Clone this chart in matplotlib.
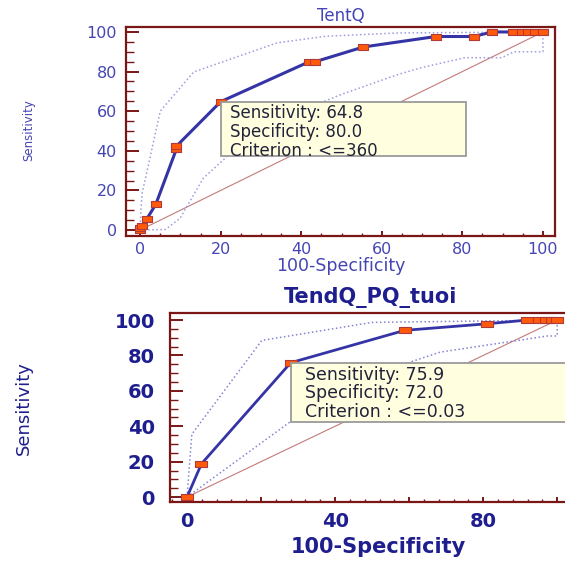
import matplotlib
matplotlib.use("Agg")
import matplotlib.pyplot as plt
from matplotlib.patches import Rectangle
from matplotlib.ticker import MultipleLocator, FixedLocator, FixedFormatter
from matplotlib.transforms import Affine2D, ScaledTranslation

# --- TentQ ROC (x = 100-Specificity, y = Sensitivity) ---
tent_fpr = [0, 0, 0.5, 1.6, 3.9, 9.0, 9.0, 20.0, 42.0, 43.5, 55.4, 73.4, 82.8,
            87.4, 92.6, 94.8, 96.3, 98.0, 100]
tent_sens = [0, 1.0, 2.0, 5.4, 13.0, 40.8, 42.3, 64.8, 85.0, 85.0, 92.4, 97.7, 97.7,
             100, 100, 100, 100, 100, 100]
tent_hi_x = [0, 0.2, 0.5, 5.0, 13.3, 34.0, 46.0, 64.0, 100]
tent_hi_y = [0, 10.0, 18.5, 60.0, 79.8, 94.5, 97.8, 99.5, 100]
tent_lo_x = [0, 6.3, 9.9, 15.7, 21.6, 35.0, 50.0, 64.0, 69.5, 80.6, 89.8, 92.8, 100, 100]
tent_lo_y = [0, 0.3, 5.9, 26.2, 37.2, 56.0, 68.5, 78.5, 81.8, 87.0, 87.0, 90.0, 90.0, 100]
tent_crit = (20.0, 64.8)
tent_lines = ["Sensitivity: 64.8", "Specificity: 80.0", "Criterion : <=360"]

# --- TendQ_PQ_tuoi ROC ---
pq_fpr = [0, 3.9, 28.0, 58.8, 81.0, 91.9, 95.2, 97.0, 98.5, 100]
pq_sens = [0, 18.8, 75.9, 94.2, 97.9, 100, 100, 100, 100, 100]
pq_hi_x = [0, 1.3, 20.2, 50.0, 100]
pq_hi_y = [0, 35.5, 88.5, 98.7, 100]
pq_lo_x = [0, 27.8, 60.3, 68.4, 97.3, 100, 100]
pq_lo_y = [0, 42.4, 76.3, 81.9, 91.0, 91.0, 100]
pq_crit = (28.0, 75.9)
pq_lines = ["Sensitivity: 75.9", "Specificity: 72.0", "Criterion : <=0.03"]

diag = [0, 100]

FRAME = "#7a1616"
LINE = "#3434a6"
MARK_FACE = "#ff5a0a"
MARK_EDGE = "#b03a3a"
BOX_FACE = "#ffffe0"
BOX_EDGE = "#9a9a9a"
# wide flat square marker
RECT = [(-1, -0.6), (1, -0.6), (1, 0.6), (-1, 0.6), (-1, -0.6)]

plt.rcParams['font.family'] = ['DejaVu Sans']
fig = plt.figure(figsize=(5.65, 5.61), dpi=100)


def draw_roc(ax, fpr, sens, hi_x, hi_y, lo_x, lo_y, crit, lines, cfg):
    ax.plot(diag, diag, color="#c47a7a", lw=0.8, zorder=2)
    ax.plot(hi_x, hi_y, color=cfg['band'], lw=1.1, ls=':', zorder=2)
    ax.plot(lo_x, lo_y, color=cfg['band'], lw=1.1, ls=':', zorder=2)
    ax.plot(fpr, sens, color=LINE, lw=cfg['lw'], zorder=3)
    ax.plot(fpr, sens, ls='none', marker=RECT, ms=cfg['ms'], mfc=MARK_FACE,
            mec=MARK_EDGE, mew=0.8, zorder=4)

    ax.set_xlim(*cfg['xlim'])
    ax.set_ylim(*cfg['ylim'])

    # frame and ticks
    for sp in ax.spines.values():
        sp.set_color(FRAME)
        sp.set_linewidth(1.6)
    ax.yaxis.set_major_locator(MultipleLocator(20))
    ax.yaxis.set_minor_locator(MultipleLocator(5))
    ax.xaxis.set_major_locator(FixedLocator(cfg['xticks']))
    ax.xaxis.set_major_formatter(FixedFormatter(cfg['xlabels']))
    ax.xaxis.set_minor_locator(MultipleLocator(cfg['xminor']))
    ax.tick_params(which='both', direction='in', color=FRAME, top=False, right=False)
    ax.tick_params(axis='y', which='major', length=cfg['ylen'][0], width=1.4,
                   pad=cfg['ypad'], labelsize=cfg['tick'], labelcolor=cfg['tcol'])
    ax.tick_params(axis='y', which='minor', length=cfg['ylen'][1], width=1.0)
    ax.tick_params(axis='x', which='major', length=3.6, width=1.4,
                   pad=cfg['xpad'], labelsize=cfg['tick'], labelcolor=cfg['tcol'])
    ax.tick_params(axis='x', which='minor', length=2.0, width=1.0)
    for lab in ax.get_xticklabels() + ax.get_yticklabels():
        lab.set_fontweight(cfg['weight'])

    ax.set_title(cfg['title'], fontsize=cfg['tsize'], color=cfg['tcol'], pad=cfg['tpad'],
                 fontweight=cfg['weight'])
    ax.set_xlabel("100-Specificity", fontsize=cfg['lsize'], color=cfg['tcol'], va='center',
                  fontweight=cfg['weight'])
    ax.xaxis.set_label_coords(*cfg['xlab'])
    ax.set_ylabel("Sensitivity", fontsize=cfg['ysize'], color=cfg['tcol'], va='center')
    ax.yaxis.set_label_coords(*cfg['ylab'])

    # criterion box anchored at the criterion point, size in points
    bw, bh = cfg['box']
    trans = Affine2D().scale(fig.dpi / 72.0) + ScaledTranslation(crit[0], crit[1], ax.transData)
    ax.add_patch(Rectangle((0, -bh), bw, bh, transform=trans, facecolor=BOX_FACE,
                           edgecolor=BOX_EDGE, lw=1.3, zorder=5, clip_on=False))
    ax.annotate("\n".join(lines), xy=crit, xytext=cfg['toff'], textcoords='offset points',
                ha='left', va='top', fontsize=cfg['bsize'], color="#22223a",
                linespacing=cfg['bls'], zorder=6, annotation_clip=False)


# top chart
ax1 = fig.add_axes([126 / 565, 1 - 236 / 561, 429 / 565, 209 / 561])
draw_roc(ax1, tent_fpr, tent_sens, tent_hi_x, tent_hi_y, tent_lo_x, tent_lo_y,
         tent_crit, tent_lines,
         dict(band="#9c9ce0", lw=2.2, ms=7.5, xlim=(-3.5, 103), ylim=(-3.0, 102.5),
              xticks=[0, 20, 40, 60, 80, 100], xlabels=["0", "20", "40", "60", "80", "100"],
              xminor=5, ylen=(9.4, 5.6), ypad=6.5, xpad=4.5, tick=11.5, tcol="#4545b4",
              weight='normal', title="TentQ", tsize=12, tpad=4, lsize=12.5,
              xlab=(0.501, -0.145), ysize=8.5, ylab=(-0.226, 0.507), box=(177, 39),
              toff=(7, -2), bsize=12, bls=1.04))

# bottom chart
ax2 = fig.add_axes([170 / 565, 1 - 502 / 561, 402 / 565, 189 / 561])
draw_roc(ax2, pq_fpr, pq_sens, pq_hi_x, pq_hi_y, pq_lo_x, pq_lo_y,
         pq_crit, pq_lines,
         dict(band="#8484d4", lw=2.0, ms=8, xlim=(-4.6, 104), ylim=(-2.8, 104),
              xticks=[0, 20, 40, 60, 80, 100], xlabels=["0", "", "40", "", "80", ""],
              xminor=4, ylen=(9.4, 5.6), ypad=11, xpad=7, tick=14, tcol="#1e1e8e",
              weight='bold', title="TendQ_PQ_tuoi", tsize=15, tpad=7, lsize=15,
              xlab=(0.517, -0.238), ysize=13, ylab=(-0.363, 0.497), box=(205, 42.5),
              toff=(10, -2), bsize=12.5, bls=1.05))

fig.savefig("out.png", dpi=100)
